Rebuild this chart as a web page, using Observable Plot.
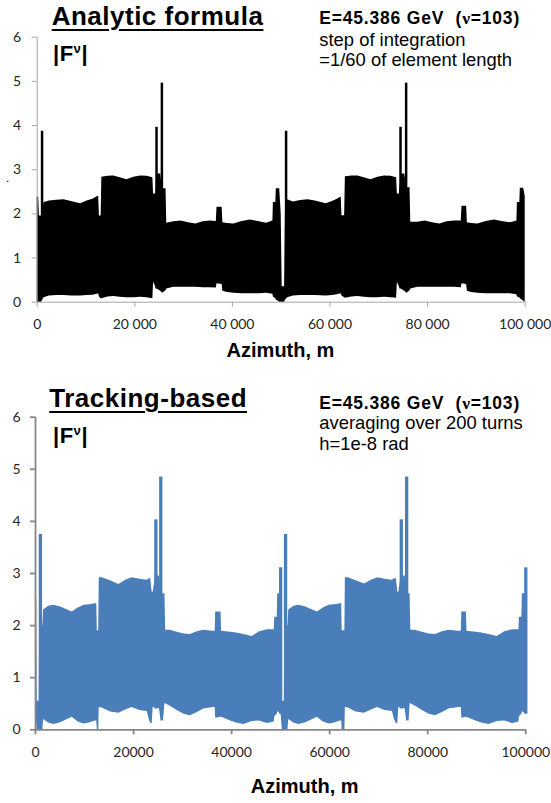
<!DOCTYPE html>
<html><head><meta charset="utf-8">
<script src="https://cdn.jsdelivr.net/npm/d3@7"></script>
<script src="https://cdn.jsdelivr.net/npm/@observablehq/plot@0.6"></script>
<style>
body{margin:0;background:#fff;}
#page{position:relative;width:551px;height:803px;overflow:hidden;font-family:"Liberation Sans",Arial,sans-serif;color:#000;background:#fff;}
.t{position:absolute;white-space:pre;line-height:1;}
.plot{position:absolute;left:0;}
.title{font-size:26px;font-weight:bold;letter-spacing:0.5px;text-decoration:underline;text-decoration-thickness:2px;text-underline-offset:4px;}
.fv{font-size:22px;font-weight:bold;letter-spacing:0.5px;}
.fv sup{font-size:0.6em;line-height:0;vertical-align:0.6em;}
.hdr{font-size:17.5px;font-weight:bold;letter-spacing:0.8px;}
.nu{font-family:"Liberation Serif",serif;}
.note{font-size:18.4px;}
.axl{font-size:20px;font-weight:bold;width:220px;text-align:center;}
</style></head><body><div id="page">
<div id="topPlot" class="plot" style="top:0"></div>
<div id="botPlot" class="plot" style="top:380px"></div>

<div class="t title" style="left:51.7px;top:3px">Analytic formula</div>
<div class="t fv" style="left:53px;top:43px">|F<sup>ν</sup>|</div>
<div class="t hdr" style="left:319.3px;top:10.2px">E=45.386 GeV  (<span class="nu">ν</span>=103)</div>
<div class="t note" style="left:319.3px;top:31.1px">step of integration</div>
<div class="t note" style="left:319.3px;top:51.1px">=1/60 of element length</div>
<div class="t" style="left:6px;top:172px;font-size:12px">.</div>
<div class="t axl" style="left:170.5px;top:339.8px">Azimuth, m</div>

<div class="t title" style="left:49.3px;top:384.7px">Tracking-based</div>
<div class="t fv" style="left:53px;top:424.6px">|F<sup>ν</sup>|</div>
<div class="t hdr" style="left:319.3px;top:394.5px">E=45.386 GeV  (<span class="nu">ν</span>=103)</div>
<div class="t note" style="left:319.3px;top:413.7px">averaging over 200 turns</div>
<div class="t note" style="left:319.3px;top:435.1px">h=1e-8 rad</div>
<div class="t axl" style="left:194.7px;top:775.8px">Azimuth, m</div>
</div>
<script>
// ---- tick values & labels ----
const xTicks = [0, 20000, 40000, 60000, 80000, 100000];
const topXLabels = ["0", "20 000", "40 000", "60 000", "80 000", "100 000"];
const botXLabels = ["0", "20000", "40000", "60000", "80000", "100000"];
const yTicks = [0, 1, 2, 3, 4, 5, 6];

// ---- Analytic formula: band envelope [azimuth m, upper |F|, lower |F|] ----
const topEnvelope = [
  [0, 2.38, 0.00], [300, 2.38, 0.00], [450, 1.95, 0.00], [900, 1.95, 0.00],
  [1400, 2.26, 0.10], [2500, 2.29, 0.14], [4000, 2.31, 0.15], [5500, 2.32, 0.15],
  [7000, 2.28, 0.14], [8900, 2.23, 0.14], [10200, 2.29, 0.15], [11400, 2.33, 0.16],
  [12300, 2.39, 0.18], [12600, 2.40, 0.19], [12750, 1.95, 0.12], [13100, 1.95, 0.08],
  [13250, 2.83, 0.08], [14500, 2.85, 0.12], [15700, 2.86, 0.13], [17000, 2.82, 0.11],
  [18400, 2.77, 0.10], [19800, 2.83, 0.10], [21200, 2.86, 0.11], [22500, 2.85, 0.10],
  [23700, 2.82, 0.08], [23850, 2.45, 0.45], [24300, 2.45, 0.35], [24600, 2.90, 0.30],
  [25300, 2.90, 0.25], [25700, 2.57, 0.20], [26400, 2.57, 0.26], [26550, 1.79, 0.30],
  [28000, 1.82, 0.34], [29500, 1.84, 0.34], [31000, 1.80, 0.34], [32500, 1.77, 0.34],
  [34000, 1.82, 0.33], [35500, 1.84, 0.33], [36700, 1.83, 0.32], [36850, 2.15, 0.42],
  [37900, 2.15, 0.40], [38050, 1.80, 0.25], [39000, 1.78, 0.22], [40300, 1.77, 0.20],
  [42000, 1.83, 0.19], [43700, 1.86, 0.19], [45500, 1.82, 0.19], [47000, 1.79, 0.20],
  [48300, 1.84, 0.18], [48400, 2.26, 0.12], [48900, 2.26, 0.08], [49000, 2.57, 0.05],
  [49700, 2.57, 0.00], [50000, 2.00, 0.00], [50200, 0.35, 0.00], [50700, 0.35, 0.00],
  [50900, 2.30, 0.05], [51300, 2.32, 0.10], [52500, 2.27, 0.14], [54000, 2.30, 0.15],
  [55500, 2.32, 0.15], [57000, 2.29, 0.15], [59200, 2.23, 0.14], [60500, 2.28, 0.15],
  [61500, 2.33, 0.17], [62300, 2.38, 0.19], [62450, 1.96, 0.14], [63000, 1.96, 0.10],
  [63150, 2.84, 0.09], [64500, 2.86, 0.12], [65700, 2.86, 0.13], [67000, 2.82, 0.11],
  [68400, 2.77, 0.10], [69800, 2.83, 0.10], [71200, 2.86, 0.11], [72500, 2.85, 0.10],
  [73650, 2.82, 0.09], [73800, 2.45, 0.45], [74200, 2.45, 0.35], [74600, 2.90, 0.30],
  [75300, 2.90, 0.25], [75800, 2.59, 0.20], [76400, 2.59, 0.26], [76550, 1.81, 0.30],
  [78000, 1.81, 0.34], [79500, 1.84, 0.34], [81000, 1.80, 0.34], [82500, 1.77, 0.34],
  [84000, 1.82, 0.34], [85500, 1.84, 0.34], [86900, 1.84, 0.33], [87050, 2.17, 0.42],
  [88000, 2.17, 0.40], [88150, 1.80, 0.25], [89000, 1.78, 0.22], [90300, 1.77, 0.20],
  [92000, 1.83, 0.19], [93700, 1.86, 0.19], [95500, 1.82, 0.19], [97000, 1.80, 0.19],
  [98300, 1.84, 0.17], [98400, 2.26, 0.12], [98900, 2.26, 0.10], [99000, 2.58, 0.08],
  [99700, 2.58, 0.02], [100000, 2.40, 0.00]
];
const topSpikeAz = [1000, 24450, 25550, 51000, 74450, 75600];
const topSpikeTop = [3.87, 3.96, 4.96, 3.87, 3.96, 4.96];
const topSpikeBase = [0.1, 0.3, 0.3, 0.1, 0.3, 0.3];

// ---- Tracking-based: band envelope [azimuth m, upper |F|, lower |F|] ----
const botEnvelope = [
  [0, 2.51, 0.31], [250, 2.51, 0.10], [350, 0.55, 0.00], [750, 0.55, 0.00],
  [850, 2.00, 0.00], [1500, 2.00, 0.00], [1650, 2.30, 0.20], [2700, 2.37, 0.13],
  [3700, 2.39, 0.10], [5000, 2.36, 0.13], [6300, 2.31, 0.19], [7500, 2.26, 0.24],
  [8700, 2.34, 0.15], [9900, 2.39, 0.11], [11000, 2.40, 0.13], [12200, 2.42, 0.17],
  [12500, 2.42, 0.17], [12600, 1.90, 0.00], [12900, 1.90, 0.00], [13000, 2.92, 0.43],
  [13600, 2.92, 0.42], [15300, 2.86, 0.34], [17000, 2.79, 0.32], [18400, 2.87, 0.38],
  [19700, 2.92, 0.43], [21300, 2.89, 0.37], [22800, 2.87, 0.35], [23200, 2.90, 0.20],
  [23500, 2.90, 0.12], [23800, 2.64, 0.12], [24000, 2.64, 0.43], [24500, 2.95, 0.43],
  [25300, 2.95, 0.40], [25600, 2.61, 0.17], [26100, 2.61, 0.17], [26400, 2.61, 0.50],
  [26550, 1.91, 0.50], [27500, 1.91, 0.45], [28900, 1.87, 0.37], [30300, 1.84, 0.30],
  [31600, 1.83, 0.27], [33000, 1.88, 0.33], [34300, 1.91, 0.40], [36200, 1.89, 0.43],
  [36650, 1.89, 0.43], [36750, 2.26, 0.22], [37850, 2.26, 0.24], [37950, 1.89, 0.24],
  [39800, 1.87, 0.17], [41000, 1.86, 0.13], [42500, 1.83, 0.10], [44200, 1.79, 0.16],
  [45700, 1.88, 0.17], [47300, 1.92, 0.12], [48700, 1.92, 0.15], [48800, 2.16, 0.25],
  [49300, 2.16, 0.30], [49400, 2.61, 0.35], [50100, 2.61, 0.30], [50250, 2.61, 0.10],
  [50350, 0.55, 0.00], [50750, 0.55, 0.00], [50850, 2.00, 0.00], [51500, 2.00, 0.00],
  [51650, 2.30, 0.20], [52700, 2.37, 0.13], [53700, 2.39, 0.10], [55000, 2.36, 0.13],
  [56300, 2.31, 0.19], [57500, 2.26, 0.24], [58700, 2.34, 0.15], [59900, 2.39, 0.11],
  [61000, 2.40, 0.13], [62200, 2.42, 0.17], [62450, 2.42, 0.17], [62550, 1.90, 0.00],
  [63100, 1.90, 0.00], [63200, 2.92, 0.43], [63800, 2.92, 0.42], [65400, 2.86, 0.34],
  [67100, 2.80, 0.32], [68500, 2.87, 0.38], [69800, 2.92, 0.43], [71300, 2.89, 0.37],
  [72800, 2.87, 0.35], [73200, 2.90, 0.20], [73600, 2.90, 0.12], [73900, 2.64, 0.12],
  [74100, 2.64, 0.43], [74600, 2.95, 0.43], [75400, 2.95, 0.40], [75700, 2.61, 0.17],
  [76200, 2.61, 0.17], [76400, 2.61, 0.50], [76550, 1.91, 0.50], [77500, 1.91, 0.45],
  [78900, 1.87, 0.37], [80300, 1.84, 0.30], [81600, 1.83, 0.27], [83000, 1.88, 0.33],
  [84300, 1.91, 0.40], [86300, 1.89, 0.43], [86850, 1.89, 0.43], [86950, 2.26, 0.22],
  [87900, 2.26, 0.24], [88000, 1.89, 0.24], [89800, 1.87, 0.17], [91000, 1.86, 0.13],
  [92500, 1.83, 0.10], [94200, 1.79, 0.16], [95700, 1.88, 0.17], [97300, 1.92, 0.12],
  [98600, 1.92, 0.15], [98700, 2.16, 0.25], [99200, 2.16, 0.30], [99300, 2.61, 0.35],
  [100000, 2.61, 0.30]
];
const botSpikeAz = [1000, 24550, 25550, 50000, 51000, 74600, 75700, 100000];
const botSpikeTop = [3.75, 4.03, 4.85, 3.11, 3.75, 4.03, 4.85, 3.11];
const botSpikeBase = [0.1, 0.4, 0.4, 0.3, 0.1, 0.4, 0.4, 0.3];

function rowsOf(env) { return env.map(([az, upper, lower]) => ({az, upper, lower})); }
function spikesOf(az, top, base) { return az.map((a, i) => ({az: a, top: top[i], base: base[i]})); }

function panel(o) {
  return Plot.plot({
    width: 551, height: o.height,
    marginLeft: o.ml, marginRight: o.mr, marginTop: o.mt, marginBottom: o.mb,
    x: {domain: [0, 100000]},
    y: {domain: [0, 6]},
    style: {fontFamily: "Lato, sans-serif", fontSize: "14px", color: "#262626", background: "transparent", overflow: "visible"},
    marks: [
      Plot.areaY(o.rows, {x: "az", y1: "lower", y2: "upper", fill: o.color, curve: "linear"}),
      Plot.ruleX(o.spikes, {x: "az", y1: "base", y2: "top", stroke: o.color, strokeWidth: o.spikeWidth}),
      Plot.ruleY([0], {stroke: o.axisColor, strokeWidth: o.axisWidth}),
      Plot.ruleX([0], {y1: 0, y2: 6, stroke: o.axisColor, strokeWidth: o.axisWidth}),
      Plot.axisX({ticks: xTicks, tickFormat: d => o.xLabels[xTicks.indexOf(d)], tickSize: 5, tickPadding: o.padX, stroke: o.axisColor, strokeWidth: o.axisWidth, label: null}),
      Plot.axisY({ticks: yTicks, tickFormat: d => String(d), tickSize: 5, tickPadding: o.padY, stroke: o.axisColor, strokeWidth: o.axisWidth, label: null})
    ]
  });
}

document.getElementById("topPlot").append(panel({
  height: 370, ml: 36.7, mr: 26.3, mt: 36.7, mb: 68.3,
  rows: rowsOf(topEnvelope), spikes: spikesOf(topSpikeAz, topSpikeTop, topSpikeBase),
  color: "#000000", spikeWidth: 2.5, axisColor: "#a6a6a6", axisWidth: 1,
  xLabels: topXLabels, padX: 11.5, padY: 11
}));
document.getElementById("botPlot").append(panel({
  height: 423, ml: 35, mr: 25.7, mt: 36.7, mb: 73.7,
  rows: rowsOf(botEnvelope), spikes: spikesOf(botSpikeAz, botSpikeTop, botSpikeBase),
  color: "#4a7ebb", spikeWidth: 3.3, axisColor: "#868686", axisWidth: 1.8,
  xLabels: botXLabels, padX: 12, padY: 10
}));
</script>
</body></html>
